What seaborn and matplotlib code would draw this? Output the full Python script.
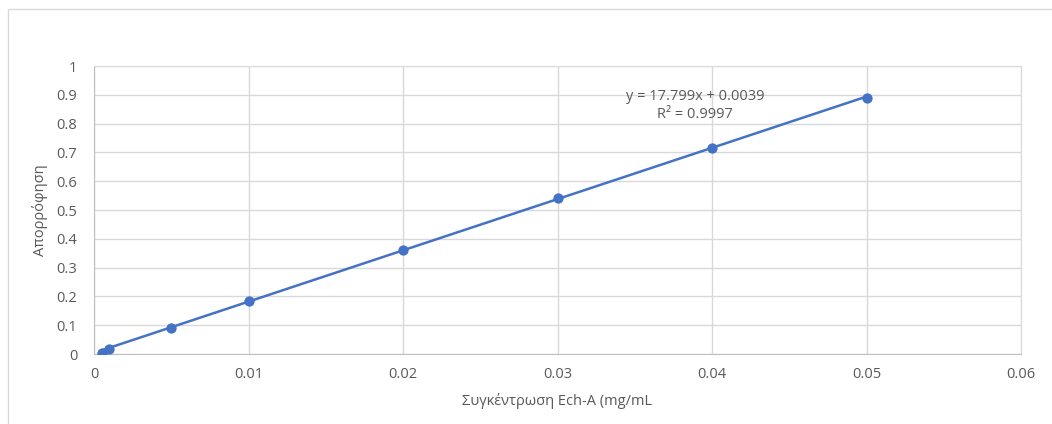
import numpy as np
import pandas as pd
import matplotlib
matplotlib.use('Agg')
import matplotlib.pyplot as plt
import seaborn as sns
from matplotlib.patches import Rectangle

# Calibration data
concentration = [0.0005, 0.001, 0.005, 0.01, 0.02, 0.03, 0.04, 0.05]
absorbance = [0.005, 0.019, 0.090, 0.183, 0.361, 0.543, 0.715, 0.889]
slope = 17.799
intercept = 0.0039
x_ticks = [0, 0.01, 0.02, 0.03, 0.04, 0.05, 0.06]
y_ticks = [0, 0.1, 0.2, 0.3, 0.4, 0.5, 0.6, 0.7, 0.8, 0.9, 1]


def fmt(v):
    return '0' if v == 0 else ('%g' % v)


def main():
    sns.set_style('white')
    plt.rcParams['font.family'] = ['Open Sans', 'DejaVu Sans']

    text_col = '#595959'
    grid_col = '#d9d9d9'
    blue = '#4472C4'

    df = pd.DataFrame({'x': concentration, 'y': absorbance})

    fig = plt.figure(figsize=(10.52, 4.24), dpi=100)
    fig.patches.append(Rectangle((8 / 1052, -0.01), 1.05, (424 - 9) / 424 + 0.01,
                                 transform=fig.transFigure, fill=False,
                                 edgecolor=grid_col, linewidth=1))
    ax = fig.add_axes([94 / 1052, 70 / 424, (1021 - 94) / 1052, (354 - 66) / 424])

    # trendline
    xs = np.array([concentration[0], concentration[-1]])
    ax.plot(xs, slope * xs + intercept, color=blue, linewidth=1.8, zorder=2)

    sns.scatterplot(data=df, x='x', y='y', ax=ax, color=blue, s=55,
                    edgecolor=blue, linewidth=0, zorder=3)

    ax.set_xlim(0, 0.06)
    ax.set_ylim(0, 1)
    ax.set_xticks(x_ticks)
    ax.set_yticks(y_ticks)
    ax.set_xticklabels([fmt(v) for v in x_ticks])
    ax.set_yticklabels([fmt(v) for v in y_ticks])
    ax.grid(True, color=grid_col, linewidth=1)
    ax.set_axisbelow(True)
    for s in ['top', 'right']:
        ax.spines[s].set_color(grid_col)
    for s in ['left', 'bottom']:
        ax.spines[s].set_color('#bfbfbf')
    ax.tick_params(axis='both', length=0, colors=text_col, labelsize=10.5)
    ax.tick_params(axis='y', pad=12)
    ax.tick_params(axis='x', pad=9)

    ax.set_xlabel('Συγκέντρωση Ech-A (mg/mL', color=text_col, fontsize=10.5, labelpad=8)
    ax.set_ylabel('Απορρόφηση', color=text_col, fontsize=10.5, labelpad=6)

    ax.text(0.0389, 0.864, 'y = 17.799x + 0.0039\nR² = 0.9997', color=text_col,
            fontsize=10.5, ha='center', va='center', linespacing=1.25)

    fig.savefig('out.png', dpi=100)


if __name__ == '__main__':
    main()
